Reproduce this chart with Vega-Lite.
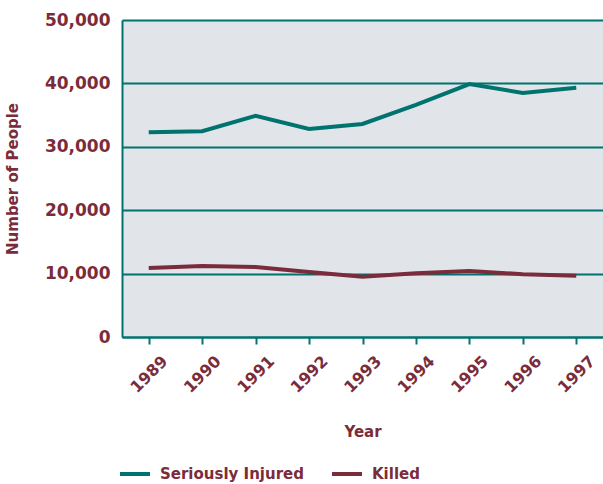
{
  "$schema": "https://vega.github.io/schema/vega-lite/v6.json",
  "width": 481,
  "height": 317,
  "autosize": "none",
  "padding": {"left": 122, "top": 20, "right": 0, "bottom": 147},
  "background": "white",
  "config": {
    "font": "DejaVu Sans",
    "view": {"fill": "#e1e5ea", "stroke": null}
  },
  "data": {
    "values": [
      {"Year": "1989", "Series": "Seriously Injured", "People": 32300},
      {"Year": "1990", "Series": "Seriously Injured", "People": 32450},
      {"Year": "1991", "Series": "Seriously Injured", "People": 34900},
      {"Year": "1992", "Series": "Seriously Injured", "People": 32800},
      {"Year": "1993", "Series": "Seriously Injured", "People": 33600},
      {"Year": "1994", "Series": "Seriously Injured", "People": 36600},
      {"Year": "1995", "Series": "Seriously Injured", "People": 39900},
      {"Year": "1996", "Series": "Seriously Injured", "People": 38500},
      {"Year": "1997", "Series": "Seriously Injured", "People": 39300},
      {"Year": "1989", "Series": "Killed", "People": 10900},
      {"Year": "1990", "Series": "Killed", "People": 11200},
      {"Year": "1991", "Series": "Killed", "People": 11050},
      {"Year": "1992", "Series": "Killed", "People": 10250},
      {"Year": "1993", "Series": "Killed", "People": 9500},
      {"Year": "1994", "Series": "Killed", "People": 10050},
      {"Year": "1995", "Series": "Killed", "People": 10400},
      {"Year": "1996", "Series": "Killed", "People": 9900},
      {"Year": "1997", "Series": "Killed", "People": 9650}
    ]
  },
  "mark": {"type": "line", "strokeWidth": 4},
  "encoding": {
    "x": {
      "field": "Year",
      "type": "ordinal",
      "scale": {"type": "point", "padding": 0.5},
      "axis": {
        "title": "Year",
        "titleColor": "#7b2c3a",
        "titleFontSize": 15,
        "titleFontWeight": "bold",
        "titlePadding": 29,
        "labelAngle": -45,
        "labelAlign": "center",
        "labelBaseline": "middle",
        "labelPadding": 30,
        "labelColor": "#7b2c3a",
        "labelFontSize": 16,
        "labelFontWeight": "bold",
        "domainColor": "#00736e",
        "domainWidth": 2,
        "tickColor": "#00736e",
        "tickWidth": 2,
        "tickSize": 7,
        "grid": false
      }
    },
    "y": {
      "field": "People",
      "type": "quantitative",
      "scale": {"domain": [0, 50000], "nice": false},
      "axis": {
        "title": "Number of People",
        "titleColor": "#7b2c3a",
        "titleFontSize": 15,
        "titleFontWeight": "bold",
        "titlePadding": 24,
        "values": [0, 10000, 20000, 30000, 40000, 50000],
        "format": ",d",
        "labelColor": "#7b2c3a",
        "labelFontSize": 17,
        "labelFontWeight": "bold",
        "labelPadding": 12,
        "ticks": false,
        "domainColor": "#00736e",
        "domainWidth": 2,
        "grid": true,
        "gridColor": "#00736e",
        "gridWidth": 2,
        "gridOpacity": 1
      }
    },
    "color": {
      "field": "Series",
      "type": "nominal",
      "sort": ["Seriously Injured", "Killed"],
      "scale": {"domain": ["Seriously Injured", "Killed"], "range": ["#00736e", "#7b2c3a"]},
      "legend": {
        "title": null,
        "orient": "none",
        "direction": "horizontal",
        "legendX": -4,
        "legendY": 437,
        "symbolType": "stroke",
        "symbolSize": 900,
        "symbolStrokeWidth": 4,
        "labelColor": "#7b2c3a",
        "labelFontSize": 15,
        "labelFontWeight": "bold",
        "columnPadding": 20,
        "labelOffset": 8,
        "padding": 0
      }
    }
  }
}
